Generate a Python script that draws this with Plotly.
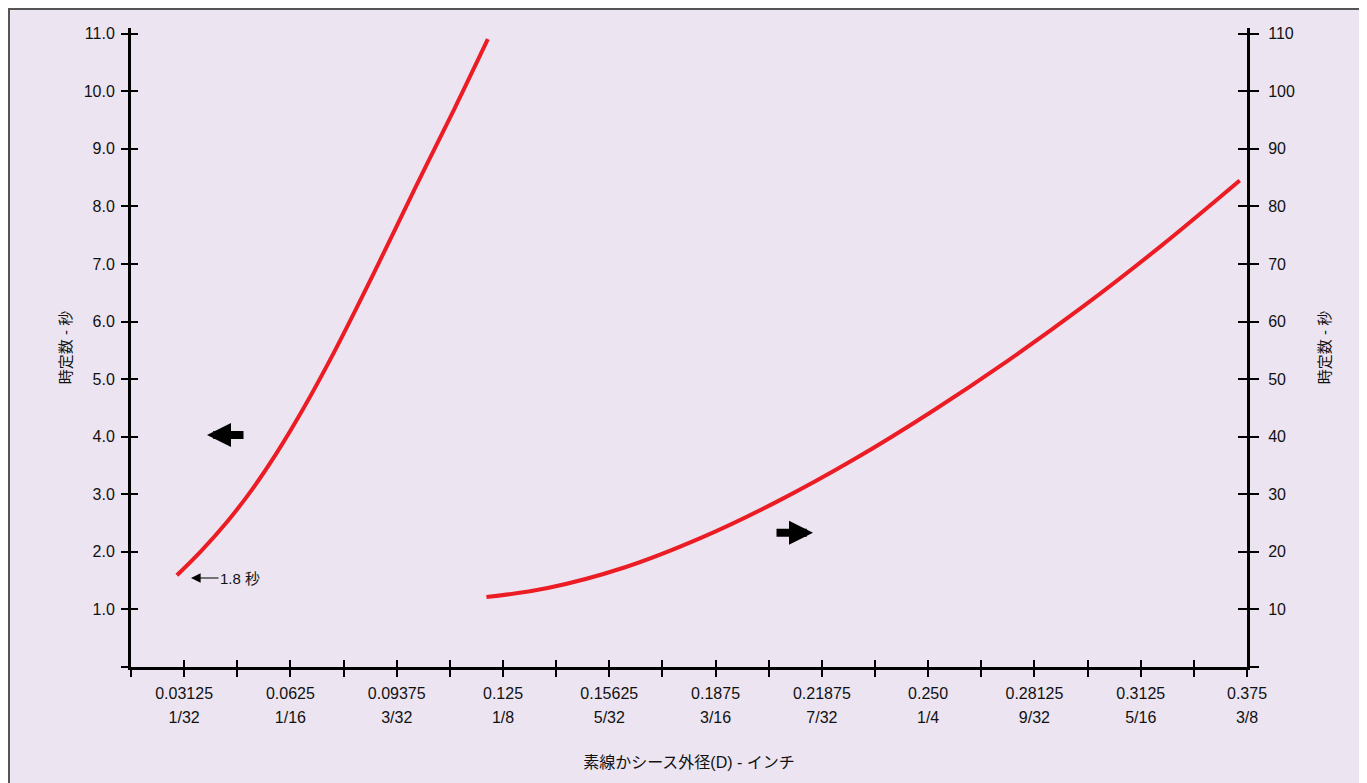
import plotly.graph_objects as go

# ---------------- data ----------------
# left curve: time constant in seconds (left axis)
left_x = [0.02910, 0.03616, 0.04402, 0.05088, 0.05824, 0.06656, 0.07539,
          0.08717, 0.09894, 0.11071, 0.12054]
left_y = [1.593, 2.010, 2.533, 3.055, 3.699, 4.517, 5.474,
          6.858, 8.294, 9.695, 10.905]

# right curve: time constant in seconds (right axis)
right_x = [0.12013, 0.13814, 0.16068, 0.18319, 0.20571, 0.22824, 0.25076,
           0.27327, 0.29578, 0.31833, 0.34161]
right_y = [12.15, 13.72, 17.28, 22.42, 28.77, 36.08, 44.26,
           53.14, 62.72, 73.07, 84.51]

# x tick labels (as printed in the reference)
x_tick_dec = ["0.03125", "0.0625", "0.09375", "0.125", "0.15625", "0.1875",
              "0.21875", "0.250", "0.28125", "0.3125", "0.375"]
x_tick_frac = ["1/32", "1/16", "3/32", "1/8", "5/32", "3/16",
               "7/32", "1/4", "9/32", "5/16", "3/8"]
x_major_pos = [i / 32 for i in range(1, 12)]
x_minor_pos = [(2 * i + 1) / 64 for i in range(0, 11)]

y_left_ticks = [1, 2, 3, 4, 5, 6, 7, 8, 9, 10, 11]
y_right_ticks = [10, 20, 30, 40, 50, 60, 70, 80, 90, 100, 110]

# ---------------- styling ----------------
FONT = "Liberation Sans, Arial, Noto Sans CJK JP, sans-serif"
RED = "#EC1C24"
BG = "#ECE5F1"
W, H = 1367, 783
# the page body adds an 8px offset; margins are set relative to the figure
ML, MR, MT, MB = 123, 128, 20, 124

X_RANGE = [1 / 64, 11 / 32]
YL_RANGE = [0, 11.1]
YR_RANGE = [0, 111]

all_x = sorted(x_major_pos + x_minor_pos)
dec_map = dict(zip(x_major_pos, x_tick_dec))
frac_map = dict(zip(x_major_pos, x_tick_frac))
x_text_dec = [dec_map.get(v, "") for v in all_x]
x_text_frac = [frac_map.get(v, "") for v in all_x]

fig = go.Figure()
fig.add_trace(go.Scatter(x=left_x, y=left_y, mode="lines",
                         line=dict(color=RED, width=4, shape="spline"),
                         xaxis="x", yaxis="y", showlegend=False, hoverinfo="skip"))
fig.add_trace(go.Scatter(x=right_x, y=right_y, mode="lines",
                         line=dict(color=RED, width=4, shape="spline"),
                         xaxis="x", yaxis="y2", showlegend=False, hoverinfo="skip"))
# empty helper traces so the overlay tick axes are drawn
for xa, ya in [("x2", "y"), ("x", "y3"), ("x", "y4")]:
    fig.add_trace(go.Scatter(x=[], y=[], xaxis=xa, yaxis=ya,
                             showlegend=False, hoverinfo="skip"))

tickfont = dict(family=FONT, size=16, color="#111")
common = dict(showgrid=False, zeroline=False, tickcolor="black", tickwidth=1.5)

fig.update_layout(
    width=W, height=H,
    margin=dict(l=ML, r=MR, t=MT, b=MB),
    paper_bgcolor="white",
    plot_bgcolor="rgba(0,0,0,0)",
    font=dict(family=FONT, size=15, color="#111"),
    showlegend=False,
    xaxis=dict(range=X_RANGE, tickmode="array", tickvals=all_x, ticktext=x_text_dec,
               ticks="outside", ticklen=7, showline=True, linecolor="black", linewidth=3,
               tickfont=tickfont, ticklabelstandoff=3, **common),
    xaxis2=dict(range=X_RANGE, overlaying="x", side="bottom", anchor="y",
                tickmode="array", tickvals=all_x, ticktext=x_text_frac,
                ticks="inside", ticklen=7, showline=False, tickfont=tickfont,
                ticklabelstandoff=39,
                title=dict(text="素線かシース外径(D) - インチ", standoff=31,
                           font=dict(family=FONT, size=16, color="#111")),
                **common),
    yaxis=dict(range=YL_RANGE, tickmode="array", tickvals=[0] + y_left_ticks,
               ticktext=[""] + [f"{v:.1f}" for v in y_left_ticks],
               ticks="outside", ticklen=7, showline=True, linecolor="black", linewidth=3,
               tickfont=tickfont, ticklabelstandoff=3,
               title=dict(text="時定数 - 秒", standoff=9,
                          font=dict(family=FONT, size=15, color="#111")),
               **common),
    yaxis2=dict(range=YR_RANGE, overlaying="y", side="right", anchor="x",
                tickmode="array", tickvals=[0] + y_right_ticks,
                ticktext=[""] + [str(v) for v in y_right_ticks],
                ticks="outside", ticklen=9, showline=True, linecolor="black", linewidth=3,
                tickfont=tickfont, ticklabelstandoff=6,
                title=dict(text="時定数 - 秒", standoff=26,
                           font=dict(family=FONT, size=15, color="#111")),
                **common),
    yaxis3=dict(range=YL_RANGE, overlaying="y", side="left", anchor="x",
                tickmode="array", tickvals=y_left_ticks, ticks="inside", ticklen=7,
                showticklabels=False, showline=False, **common),
    yaxis4=dict(range=YR_RANGE, overlaying="y", side="right", anchor="x",
                tickmode="array", tickvals=y_right_ticks, ticks="inside", ticklen=9,
                showticklabels=False, showline=False, **common),
)

# outer lavender frame
pw = W - ML - MR
ph = H - MT - MB
fig.add_shape(type="rect", xref="paper", yref="paper", layer="below",
              x0=(1 - ML) / pw, x1=(1354 - ML) / pw,
              y0=-0.3, y1=(H - MB - 1) / ph,
              fillcolor=BG, line=dict(color="#555", width=2))

# annotations: start label and direction arrows
fig.add_annotation(x=0.03327, y=1.546, xref="x", yref="y", text="1.8 秒",
                   showarrow=True, ax=49, ay=0, arrowhead=2, arrowsize=1.6,
                   arrowwidth=1.2, arrowcolor="black",
                   font=dict(family=FONT, size=15, color="#111"))
fig.add_annotation(x=0.03797, y=4.03, xref="x", yref="y", text="",
                   showarrow=True, ax=38, ay=0, arrowhead=2, arrowsize=0.6,
                   arrowwidth=8, arrowcolor="black")
fig.add_annotation(x=0.21615, y=2.33, xref="x", yref="y", text="",
                   showarrow=True, ax=-38, ay=0, arrowhead=2, arrowsize=0.6,
                   arrowwidth=8, arrowcolor="black")

fig.write_html("out.html")
